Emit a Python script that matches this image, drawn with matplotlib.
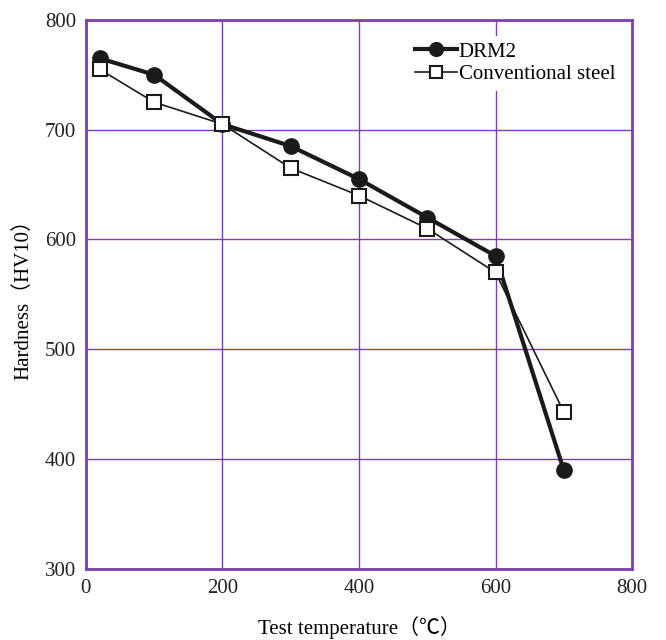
import matplotlib.pyplot as plt

# test temperatures (C)
temp = [20, 100, 200, 300, 400, 500, 600, 700]
# hardness values (HV10)
drm2 = [765, 750, 705, 685, 655, 620, 585, 390]
conv = [755, 725, 705, 665, 640, 610, 570, 443]

xticks = [0, 200, 400, 600, 800]
yticks = [300, 400, 500, 600, 700, 800]

plt.rcParams['font.family'] = ['Liberation Serif', 'Noto Sans CJK JP', 'DejaVu Serif']
purple = '#7b3fae'

fig = plt.figure(figsize=(6.66, 6.4), dpi=100)
ax = fig.add_axes([0.129, 0.111, 0.82, 0.858])

ax.plot(temp, drm2, color='#1a1a1a', lw=3, marker='o', ms=11, label='DRM2', zorder=3)
ax.plot(temp, conv, color='#1a1a1a', lw=1.2, marker='s', ms=10, mfc='white',
        mec='#1a1a1a', mew=1.5, label='Conventional steel', zorder=4)

ax.set_xlim(0, 800)
ax.set_ylim(300, 800)
ax.set_xticks(xticks)
ax.set_yticks(yticks)
ax.tick_params(length=0, labelsize=15, colors='#222222', pad=7)
ax.grid(True, color=purple, lw=1)
ax.set_axisbelow(True)
for s in ax.spines.values():
    s.set_color(purple)
    s.set_linewidth(2)

ax.set_xlabel('Test temperature（℃）', fontsize=15, labelpad=13)
ax.set_ylabel('Hardness（HV10）', fontsize=15, labelpad=8)

leg = ax.legend(loc='upper right', bbox_to_anchor=(1.0, 0.99), frameon=True, fontsize=15,
                handlelength=2.0, handletextpad=0.1, borderpad=0.3, labelspacing=0.15,
                markerscale=0.9)
leg.get_frame().set_facecolor('white')
leg.get_frame().set_edgecolor('none')
leg.get_frame().set_alpha(1)

fig.savefig('out.png', dpi=100)
